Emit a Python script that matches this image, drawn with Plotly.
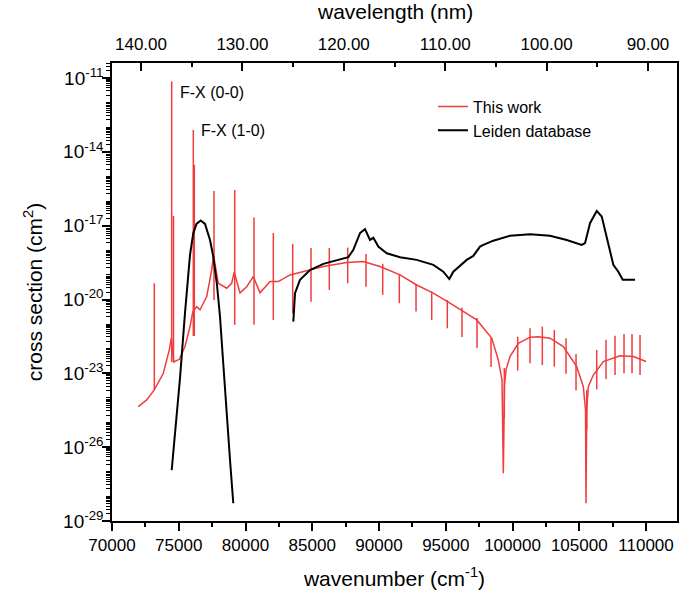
import plotly.graph_objects as go

# ---------------- data ----------------
# "This work": smooth part of the curve (wavenumber cm^-1, log10 cross section)
tw_cont_wn = [71970, 72599, 73169, 73843, 74292, 74442,
              74622, 75041, 75468, 75843, 76052,
              76345, 76592, 77094, 77468, 77603,
              77962, 78592, 78966, 79154,
              79588, 80090, 80584,
              81086, 81835,
              82457, 83333,
              84584, 85828, 87581, 88824, 90075, 91573, 92824, 94067,
              95318, 96569, 97318, 98442, 98936, 99213, 99311, 99401, 99513,
              99813, 100434, 101311, 101933, 102809, 103805, 104809, 105303,
              105468, 105506, 105558, 105678, 106053, 106802, 108052, 109049,
              110000]
tw_cont_log = [-24.35, -24.08, -23.67, -23.00, -22.05, -21.56,
               -22.54, -22.43, -21.91, -21.10, -20.50,
               -20.29, -20.42, -19.88, -18.80, -18.19,
               -19.34, -19.54, -19.34, -18.88,
               -19.73, -19.48, -19.07,
               -19.73, -19.27,
               -19.27, -19.00,
               -18.84, -18.66, -18.50, -18.46, -18.66, -19.00, -19.41, -19.74,
               -20.15, -20.56, -20.83, -21.57, -22.46, -23.27, -27.06, -23.47, -22.86,
               -22.32, -21.78, -21.53, -21.51, -21.57, -21.91, -22.73, -23.54,
               -24.49, -28.28, -24.49, -23.54, -23.07, -22.52, -22.29, -22.32,
               -22.52]

# "This work": sharp resonance lines (position, top, bottom; log10 cross section)
tw_line_wn = [73169, 74472, 74607, 76090, 76165, 77640, 79191, 80637, 82083,
              83536, 84906, 86277, 87655, 89026, 90277, 91520, 92772, 93948,
              95116, 96217, 97341, 98390, 99386, 100389, 101311, 102232,
              103131, 104007, 104756, 105558, 106307, 107004, 107678, 108352,
              108951, 109551]
tw_line_top = [-19.34, -11.14, -16.60, -13.11, -14.53, -15.59, -15.55, -16.67,
               -17.30, -17.74, -17.91, -17.91, -17.89, -18.15, -18.55, -18.96,
               -19.37, -19.68, -20.02, -20.34, -20.75, -21.56, -22.78, -21.51,
               -21.17, -21.10, -21.24, -21.57, -22.21, -23.67, -22.05, -21.64,
               -21.47, -21.40, -21.40, -21.44]
tw_line_bot = [-23.67, -22.54, -22.54, -21.48, -21.48, -20.02, -21.03, -21.03,
               -20.83, -20.56, -20.09, -19.61, -19.34, -19.48, -19.81, -20.15,
               -20.49, -20.83, -21.17, -21.52, -21.97, -22.74, -24.81, -22.89,
               -22.59, -22.66, -22.73, -23.02, -23.70, -25.30, -23.65, -23.23,
               -23.07, -23.00, -23.00, -23.07]

# Leiden database: two separate pieces
ld1_wn = [74472, 75094, 75468, 75843, 76090, 76330, 76644, 76966, 77341, 77588,
          77865, 78090, 78315, 78592, 78839, 79086]
ld1_log = [-26.93, -23.19, -20.54, -18.19, -17.30, -16.93, -16.79, -16.93,
           -17.58, -18.26, -19.41, -20.70, -22.46, -24.76, -26.52, -28.28]
ld2_wn = [83581, 83708, 84082, 84831, 85828, 86831, 87700, 88075, 88577, 88951,
          89326, 89575, 89948, 90577, 91573, 92824, 94067, 94816, 95266, 95566,
          96569, 97064, 97566, 97813, 98562, 99813, 101311, 102809, 104060,
          105183, 105431, 105805, 106307, 106682, 107056, 107551, 107925,
          108255, 109176]
ld2_log = [-20.90, -19.74, -19.20, -18.80, -18.55, -18.42, -18.28, -17.98,
           -17.30, -17.14, -17.58, -17.49, -17.85, -18.12, -18.28, -18.39,
           -18.59, -18.87, -19.17, -18.87, -18.39, -18.23, -17.85, -17.78,
           -17.61, -17.41, -17.35, -17.41, -17.58, -17.78, -17.71, -16.90,
           -16.40, -16.63, -17.44, -18.59, -18.87, -19.20, -19.20]

y_tick_exp = [-29, -26, -23, -20, -17, -14, -11]
x_ticks = [70000, 75000, 80000, 85000, 90000, 95000, 100000, 105000, 110000]
wl_ticks = [140, 130, 120, 110, 100, 90]

# ---------------- figure ----------------
RED = "#f03c3c"
FONT = "Liberation Sans, Arial, sans-serif"

def p10(v):
    return [10 ** x for x in v]

fig = go.Figure()

fig.add_trace(go.Scatter(x=tw_cont_wn, y=p10(tw_cont_log), mode="lines",
                         line=dict(color=RED, width=1.5), name="This work",
                         legendgroup="tw"))
lx, ly = [], []
for w, t, b in zip(tw_line_wn, tw_line_top, tw_line_bot):
    lx += [w, w, None]
    ly += [10 ** t, 10 ** b, None]
fig.add_trace(go.Scatter(x=lx, y=ly, mode="lines", line=dict(color=RED, width=1.5),
                         showlegend=False, legendgroup="tw", connectgaps=False))

fig.add_trace(go.Scatter(x=ld1_wn + [None] + ld2_wn,
                         y=p10(ld1_log) + [None] + p10(ld2_log), mode="lines",
                         line=dict(color="black", width=2), name="Leiden database",
                         connectgaps=False))

# invisible trace to activate the top axis
fig.add_trace(go.Scatter(x=[140, 90], y=[1e-20, 1e-20], xaxis="x2", mode="lines",
                         line=dict(width=0), showlegend=False, hoverinfo="skip",
                         opacity=0))

minor_y = []
for e in range(-29, -10):
    for m in range(1, 10):
        minor_y.append(m * 10 ** e)

fig.update_layout(
    width=680, height=601,
    margin=dict(l=112, r=3, t=63, b=80, autoexpand=False),
    plot_bgcolor="white", paper_bgcolor="white",
    font=dict(family=FONT, size=16, color="black"),
    showlegend=True,
    legend=dict(x=0.568, y=0.942, xanchor="left", yanchor="top",
                bgcolor="rgba(0,0,0,0)", font=dict(size=16, family=FONT),
                tracegroupgap=0),
    xaxis=dict(range=[70000, 112320], tickvals=x_ticks,
               ticktext=[str(v) for v in x_ticks], automargin=False,
               ticks="outside", ticklen=8, tickwidth=1.5, tickcolor="black",
               showline=True, linecolor="black", linewidth=1.5, mirror=True,
               showgrid=False, zeroline=False,
               minor=dict(dtick=2500, tick0=70000, ticks="outside", ticklen=4,
                          tickwidth=1.5, tickcolor="black", showgrid=False),
               tickfont=dict(size=17, family=FONT),
               title=dict(text="wavenumber (cm<sup>-1</sup>)", font=dict(size=21, family=FONT),
                          standoff=17)),
    xaxis2=dict(overlaying="x", side="top", range=[142.857, 87.143],
                tickvals=wl_ticks, ticktext=["%.2f" % v for v in wl_ticks],
                automargin=False, ticklabelstandoff=9,
                ticks="inside", ticklen=8, tickwidth=1.5, tickcolor="black",
                showline=False, showgrid=False, zeroline=False,
                minor=dict(dtick=5, tick0=90, ticks="inside", ticklen=4,
                           tickwidth=1.5, tickcolor="black", showgrid=False),
                tickfont=dict(size=17, family=FONT)),
    yaxis=dict(type="log", range=[-29, -10.39],
               tickvals=[10 ** e for e in y_tick_exp],
               ticktext=["10<sup>%d</sup>" % e for e in y_tick_exp],
               automargin=False, ticklabelstandoff=-5,
               ticks="outside", ticklen=8, tickwidth=1.5, tickcolor="black",
               showline=True, linecolor="black", linewidth=1.5, mirror=True,
               showgrid=False, zeroline=False,
               minor=dict(tickmode="array", tickvals=minor_y, ticks="outside",
                          ticklen=4, tickwidth=1, tickcolor="black", showgrid=False),
               tickfont=dict(size=19, family=FONT),
               title=dict(text="cross section (cm<sup>2</sup>)", font=dict(size=21, family=FONT),
                          standoff=15)),
    annotations=[
        dict(text="wavelength (nm)", x=0.5, y=1 + 51 / 458, xref="paper", yref="paper",
             xanchor="center", yanchor="middle", showarrow=False,
             font=dict(size=21, family=FONT)),
        dict(text="F-X (0-0)", x=74966, y=-11.60, xref="x", yref="y",
             xanchor="left", yanchor="middle", showarrow=False,
             font=dict(size=16, family=FONT)),
        dict(text="F-X (1-0)", x=76539, y=-13.13, xref="x", yref="y",
             xanchor="left", yanchor="middle", showarrow=False,
             font=dict(size=16, family=FONT)),
    ],
)

fig.write_html("out.html", config={"displayModeBar": False},
               post_script="document.body.style.margin='0px';")
